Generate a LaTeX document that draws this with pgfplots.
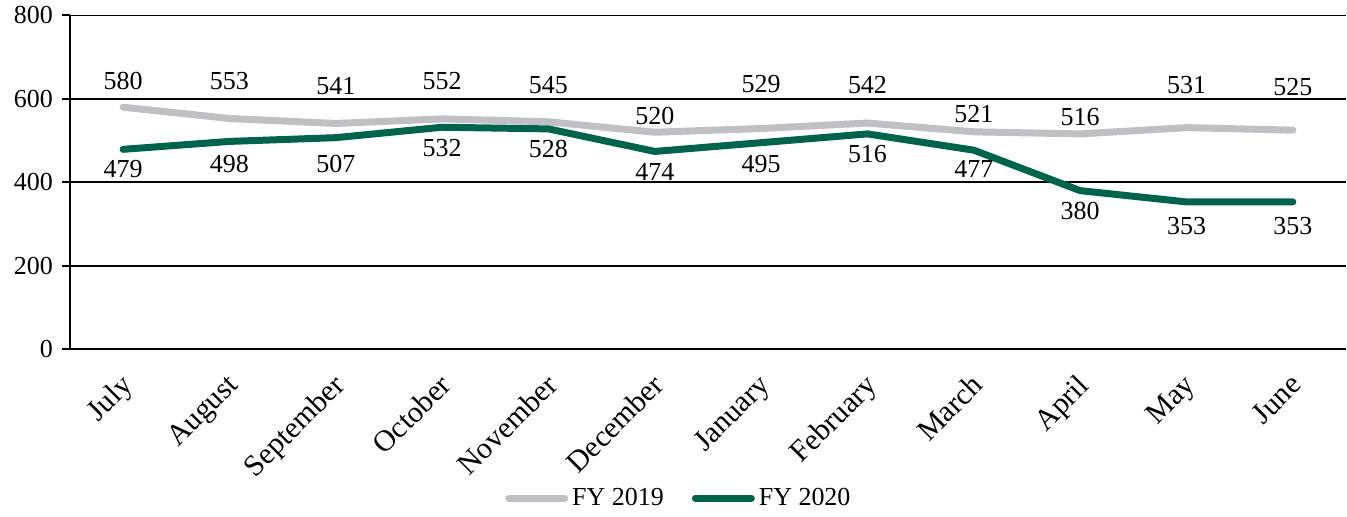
\documentclass[border=0pt]{standalone}
\usepackage{pgfplots}
\pgfplotsset{compat=1.18}
\usepackage{pgfplotstable}
\usepackage{fontspec}
\setmainfont{Liberation Serif}

\definecolor{fyold}{RGB}{191,191,196}
\definecolor{fynew}{RGB}{0,100,76}

% x, value, label height (data units)
\pgfplotstableread{
x v ly
0 580 642
1 553 642
2 541 630
3 552 642
4 545 632
5 520 558
6 529 635
7 542 632
8 521 563
9 516 556
10 531 632
11 525 628
}\fyA

\pgfplotstableread{
x v ly
0 479 431
1 498 443
2 507 443
3 532 481
4 528 479
5 474 426
6 495 445
7 516 467
8 477 431
9 380 331
10 353 295
11 353 295
}\fyB

\begin{document}
\begin{tikzpicture}
\begin{axis}[
  scale only axis,
  width=638.5pt, height=167pt,
  xmin=-0.5, xmax=11.5,
  ymin=0, ymax=800,
  axis x line*=bottom, axis y line*=left,
  axis line style={line width=1pt, -},
  xtick={0,...,11},
  xticklabels={July,August,September,October,November,December,January,February,March,April,May,June},
  minor xtick={-0.5,0.5,...,11.5},
  ytick={0,200,400,600,800},
  tick align=outside,
  x tick style={draw=none},
  minor x tick style={black, line width=1pt},
  y tick style={black, line width=1pt},
  minor tick length=4pt,
  major tick length=4pt,
  ymajorgrids,
  grid style={black, line width=0.9pt},
  font=\fontsize{13}{15}\selectfont,
  /pgf/number format/assume math mode=true,
  xticklabel style={rotate=45, anchor=north east, xshift=-3.4pt, yshift=-0.5pt,
    font=\fontsize{15}{17}\selectfont},
  yticklabel style={xshift=-1pt},
  legend style={at={(0.478,-0.446)}, anchor=center, draw=none, fill=none,
    legend columns=-1, font=\fontsize{13}{15}\selectfont,
    /tikz/every even column/.append style={column sep=12pt}},
  legend image code/.code={\draw[#1, line cap=round] (0pt,0pt) -- (28pt,0pt);},
  clip=false,
]
\addplot[fyold, line width=3.5pt, line cap=round, line join=round] table[x=x, y=v] {\fyA};
\addlegendentry{FY 2019}
\addplot[fynew, line width=3.5pt, line cap=round, line join=round] table[x=x, y=v] {\fyB};
\addlegendentry{FY 2020}

\addplot[draw=none, forget plot, nodes near coords, point meta=explicit symbolic,
  every node near coord/.append style={anchor=center, black, font=\fontsize{13}{15}\selectfont}]
  table[x=x, y=ly, meta=v] {\fyA};
\addplot[draw=none, forget plot, nodes near coords, point meta=explicit symbolic,
  every node near coord/.append style={anchor=center, black, font=\fontsize{13}{15}\selectfont}]
  table[x=x, y=ly, meta=v] {\fyB};
\end{axis}
\path (-35pt,7pt) rectangle (638.5pt,-83.5pt);
\end{tikzpicture}
\end{document}
